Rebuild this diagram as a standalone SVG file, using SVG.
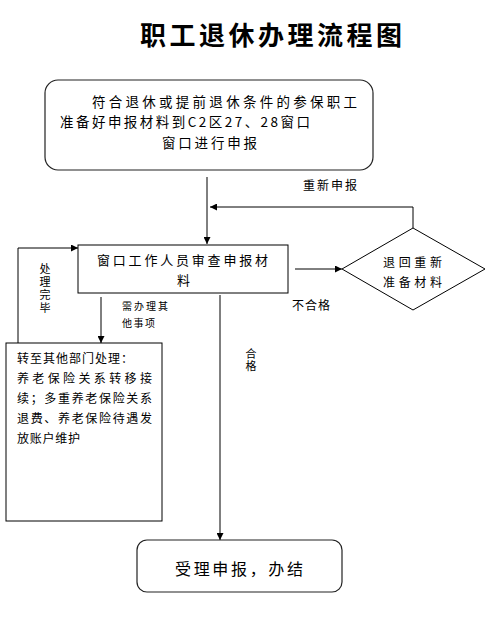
<svg xmlns="http://www.w3.org/2000/svg" width="492" height="624" viewBox="0 0 492 624">
<style>
text{font-family:"Noto Sans CJK SC","Noto Sans",sans-serif;fill:#000}
.t11{font-size:11px}
.t12{font-size:12px}
.t13{font-size:13px}
.t14{font-size:13.5px}
.vt{writing-mode:vertical-rl}
.box{fill:#fff;stroke:#000;stroke-width:1}
.rbox{fill:#fff;stroke:#222;stroke-width:1.2}
.ln{fill:none;stroke:#000;stroke-width:1}
</style>
<defs>
<marker id="ah" viewBox="0 0 10 10" refX="10" refY="5" markerWidth="9" markerHeight="7" markerUnits="userSpaceOnUse" orient="auto">
<path d="M0,0 L10,5 L0,10 z" fill="#000"/>
</marker>
</defs>
<rect width="492" height="624" fill="#fff"/>
<text x="140" y="45" font-size="26" font-weight="bold" textLength="262" lengthAdjust="spacing" style="font-family:'Noto Sans CJK SC',serif">职工退休办理流程图</text>

<g id="connectors">
<line class="ln" x1="207" y1="177" x2="207" y2="244" marker-end="url(#ah)"/>
<polyline class="ln" points="413,228 413,207 210,207" marker-end="url(#ah)"/>
<line class="ln" x1="295" y1="269" x2="342" y2="269" marker-end="url(#ah)"/>
<line class="ln" x1="220" y1="295" x2="220" y2="540" marker-end="url(#ah)"/>
<line class="ln" x1="101" y1="297" x2="101" y2="343" marker-end="url(#ah)"/>
<polyline class="ln" points="18,343 18,248 78,248" marker-end="url(#ah)"/>
<text class="t12" x="303" y="190" textLength="54" lengthAdjust="spacing">重新申报</text>
<text class="t12" x="292" y="310" textLength="38" lengthAdjust="spacing">不合格</text>
<text font-size="10" x="122" y="310" textLength="46" lengthAdjust="spacing">需办理其</text>
<text font-size="10" x="122" y="327" textLength="33" lengthAdjust="spacing">他事项</text>
<text class="t11 vt" x="251" y="348" letter-spacing="1">合格</text>
<text class="t11 vt" x="45" y="263" letter-spacing="2">处理完毕</text>
</g>

<g id="node-start">
<rect class="rbox" x="45" y="80" width="328" height="90" rx="13"/>
<text class="t14" x="92" y="107" textLength="265" lengthAdjust="spacing">符合退休或提前退休条件的参保职工</text>
<text class="t14" x="60" y="127" textLength="250" lengthAdjust="spacing">准备好申报材料到C2区27、28窗口</text>
<text class="t14" x="162" y="148" textLength="95" lengthAdjust="spacing">窗口进行申报</text>
</g>

<g id="node-review">
<rect class="box" x="78" y="245" width="210" height="48"/>
<text class="t13" x="97" y="265" textLength="171" lengthAdjust="spacing">窗口工作人员审查申报材</text>
<text class="t13" x="177" y="285">料</text>
</g>

<g id="node-return">
<polygon class="box" points="342,269 413,228 485,269 413,310"/>
<text class="t12" x="383" y="267" textLength="59" lengthAdjust="spacing">退回重新</text>
<text class="t12" x="383" y="287" textLength="59" lengthAdjust="spacing">准备材料</text>
</g>

<g id="node-other">
<rect class="box" x="6" y="343" width="156" height="178"/>
<text class="t12" x="17" y="363" textLength="116" lengthAdjust="spacing">转至其他部门处理：</text>
<text class="t12" x="17" y="383" textLength="135" lengthAdjust="spacing">养老保险关系转移接</text>
<text class="t12" x="17" y="403" textLength="135" lengthAdjust="spacing">续；多重养老保险关系</text>
<text class="t12" x="17" y="423" textLength="135" lengthAdjust="spacing">退费、养老保险待遇发</text>
<text class="t12" x="17" y="443" textLength="63" lengthAdjust="spacing">放账户维护</text>
</g>

<g id="node-end">
<rect class="rbox" x="137" y="540" width="205" height="52" rx="10"/>
<text x="175" y="575" font-size="16" textLength="128" lengthAdjust="spacing">受理申报，办结</text>
</g>
</svg>
